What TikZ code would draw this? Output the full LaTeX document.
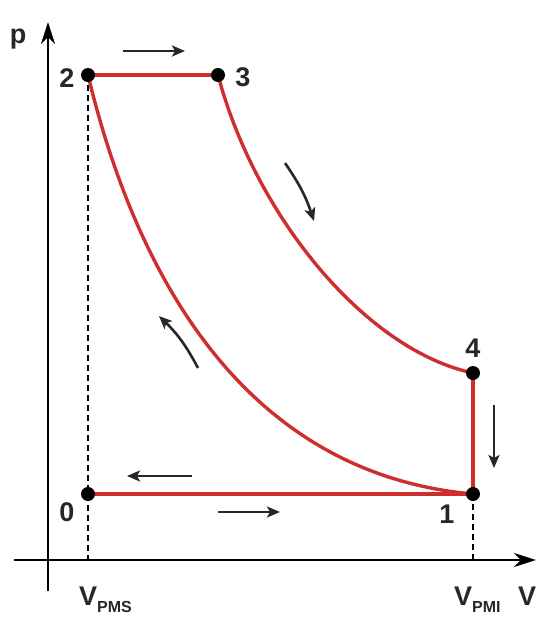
\documentclass[tikz,border=0pt]{standalone}
\usepackage{fontspec}
\setmainfont{Liberation Sans}
\usetikzlibrary{arrows.meta}
\definecolor{cyclered}{RGB}{206,46,46}
\definecolor{inkgray}{RGB}{38,38,44}

\begin{document}
\begin{tikzpicture}[
    x=1pt, y=-1pt,
    axis/.style={line width=2pt, draw=black, -{Stealth[length=22pt, width=14pt, inset=7pt]}},
    cycleline/.style={line width=3.4pt, draw=cyclered},
    guide/.style={line width=1.5pt, draw=black, dash pattern=on 6pt off 4pt},
    flow/.style={line width=2.6pt, draw=inkgray, -{Stealth[length=13pt, width=11pt, inset=3pt]}},
    statedot/.style={circle, fill=black, inner sep=0pt, minimum size=14pt},
    lbl/.style={font=\fontsize{27}{30}\selectfont\bfseries, text=inkgray, inner sep=0pt},
]

% ---- coordinates ----
\def\Vpms{88}
\def\Vpmi{473}
\def\Phigh{75}
\def\Pfour{373}
\def\Plow{494}
\def\AxisY{560}
\def\AxisX{48}

\useasboundingbox (0,0) rectangle (539,622);

% ---- axes ----
\draw[axis] (\AxisX, 591) -- (\AxisX, 22);
\draw[axis] (14, \AxisY) -- (536, \AxisY);
\node[lbl, anchor=base] (plabel) at (18, 43) {p};
\node[lbl, anchor=base west] (vlabel) at (518, 605) {V};

% ---- states ----
\coordinate (s0) at (\Vpms, \Plow);
\coordinate (s1) at (\Vpmi, \Plow);
\coordinate (s2) at (\Vpms, \Phigh);
\coordinate (s3) at (218, \Phigh);
\coordinate (s4) at (\Vpmi, \Pfour);
\coordinate (f0) at (\Vpms, \AxisY);
\coordinate (f1) at (\Vpmi, \AxisY);

% ---- dead centre guides ----
\draw[guide] (s2) -- (f0);
\draw[guide] (s1) -- (f1);

% ---- cycle ----
\draw[cycleline] (s0) -- (s1);
\draw[cycleline] (s1) .. controls (260, 475) and (142, 300) .. (s2);
\draw[cycleline] (s2) -- (s3);
\draw[cycleline] (s3) .. controls (255, 215) and (365, 350) .. (s4);
\draw[cycleline] (s4) -- (s1);

\foreach \s in {0,...,4} {
    \node[statedot] (p\s) at (s\s) {};
}

% ---- state labels ----
\node[lbl] (l0) at (67, 512) {0};
\node[lbl] (l1) at (447, 514) {1};
\node[lbl] (l2) at (67, 78) {2};
\node[lbl] (l3) at (243, 77) {3};
\node[lbl] (l4) at (473, 348) {4};

% ---- volume labels ----
\node[lbl, anchor=base west] (vpms) at (79, 605)
    {V\raisebox{-7pt}{\fontsize{16}{16}\selectfont PMS}};
\node[lbl, anchor=base west] (vpmi) at (454, 605)
    {V\raisebox{-7pt}{\fontsize{16}{16}\selectfont PMI}};

% ---- flow arrows ----
\draw[flow] (123, 51) -- (185, 51);
\draw[flow] (285, 163) to[bend left=8] (314, 221);
\draw[flow] (494, 405) -- (494, 468);
\draw[flow] (192, 476) -- (127, 476);
\draw[flow] (218, 512) -- (280, 512);
\draw[flow] (198, 368) to[bend right=9] (159, 316);

\end{tikzpicture}
\end{document}
